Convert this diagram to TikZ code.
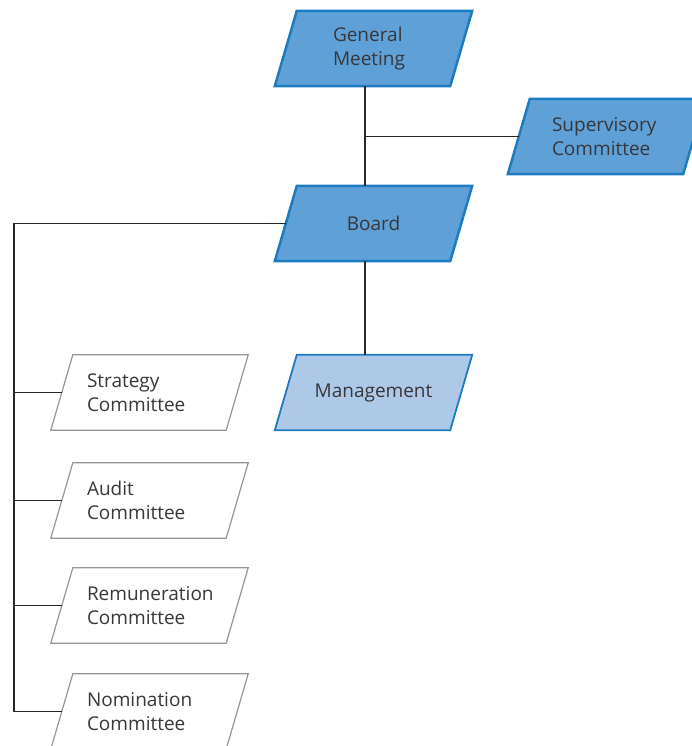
\documentclass[tikz,border=0pt]{standalone}
\usepackage{fontspec}
\setmainfont{Open Sans}
\usetikzlibrary{calc,backgrounds}
\definecolor{darkfill}{RGB}{95,160,214}
\definecolor{lightfill}{RGB}{174,201,232}
\definecolor{blueline}{RGB}{28,123,193}
\definecolor{grayline}{RGB}{150,150,150}
\definecolor{txt}{RGB}{55,55,60}
\newcommand\drawpara[2]{%
  \path[#2] ($(#1.north west)+(11,0)$) -- ($(#1.north east)+(11,0)$)
    -- ($(#1.south east)+(-11,0)$) -- ($(#1.south west)+(-11,0)$) -- cycle;}
\begin{document}
\begin{tikzpicture}[x=1pt,y=-1pt,
 para/.style={rectangle, minimum width=175pt, minimum height=75pt,
   inner sep=0pt, font=\fontsize{19}{24}\selectfont, text=txt},
 mainstyle/.style={draw=blueline, line width=2.5pt, fill=darkfill},
 mgmtstyle/.style={draw=blueline, line width=1.8pt, fill=lightfill},
 comstyle/.style={draw=grayline, line width=1.2pt, fill=white},
 combox/.style={para, text width=125pt, align=left},
 link/.style={draw=black!85, line width=1.3pt}]
\useasboundingbox (0,0) rectangle (691,746);
\clip (0,0) rectangle (691,746);

\node[para, text width=81pt, align=left] (gm) at (373.5,48.5) {General\\Meeting};
\node[para, text width=109pt, align=left] (sup) at (606.5,136.5) {Supervisory\\Committee};
\node[para] (board) at (373.5,223.5) {Board};
\node[para] (mgmt) at (373.5,392.5) {Management};

\node[combox] (strat) at (149.5,392.5) {Strategy\\Committee};
\node[combox] (audit) at (149.5,500.5) {Audit\\Committee};
\node[combox] (remun) at (149.5,605.5) {Remuneration\\Committee};
\node[combox] (nomin) at (149.5,711.5) {Nomination\\Committee};

\begin{scope}[on background layer]
\drawpara{gm}{mainstyle}
\drawpara{sup}{mainstyle}
\drawpara{board}{mainstyle}
\drawpara{mgmt}{mgmtstyle}
\drawpara{strat}{comstyle}
\drawpara{audit}{comstyle}
\drawpara{remun}{comstyle}
\drawpara{nomin}{comstyle}
\end{scope}

\coordinate (trunk) at (365,136.5);
\coordinate (bus) at (14,223.5);

\draw[link] (gm.south -| trunk) -- (board.north -| trunk);
\draw[link] (trunk) -- (sup.west);
\draw[link] (board.south -| trunk) -- (mgmt.north -| trunk);
\draw[link] (board.west) -- (bus) -- (bus |- nomin.west) -- (nomin.west);
\draw[link] (bus |- strat.west) -- (strat.west);
\draw[link] (bus |- audit.west) -- (audit.west);
\draw[link] (bus |- remun.west) -- (remun.west);
\end{tikzpicture}
\end{document}
